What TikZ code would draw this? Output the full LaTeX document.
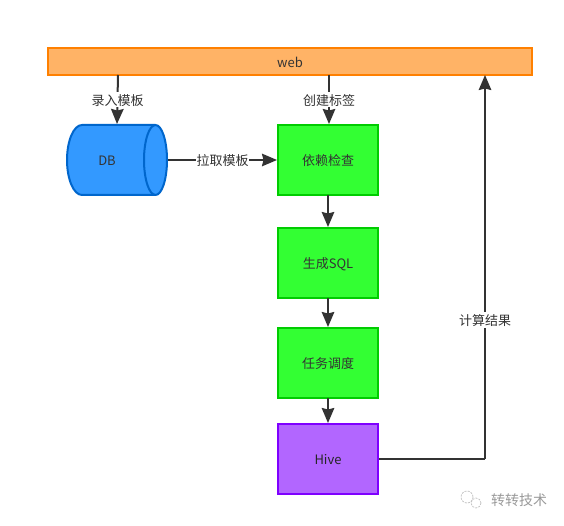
\documentclass[tikz,border=0pt]{standalone}
\usepackage{fontspec}
\setmainfont{Noto Sans CJK SC}
\usetikzlibrary{arrows.meta}
\definecolor{txt}{HTML}{333333}
\definecolor{gfill}{HTML}{33FF33}
\definecolor{gline}{HTML}{00CC00}
\definecolor{dbfill}{HTML}{3399FF}
\definecolor{dbline}{HTML}{0066CC}
\tikzset{
  base/.style={draw,line width=2pt,inner sep=0pt,text=txt,font=\fontsize{13}{15}\selectfont,text height=13pt,text depth=1.2pt,minimum width=100pt,minimum height=70pt},
  greenbox/.style={base,fill=gfill,draw=gline},
  hivebox/.style={base,fill={rgb,255:red,178;green,102;blue,255},draw={rgb,255:red,127;green,0;blue,255},text=black!85},
  webbox/.style={base,fill={rgb,255:red,255;green,179;blue,102},draw={rgb,255:red,255;green,128;blue,0},minimum width=484pt,minimum height=27pt},
  dbtext/.style={inner sep=0pt,text=txt,font=\fontsize{13}{15}\selectfont,text height=13pt,text depth=1.2pt},
  dbshape/.style={fill=dbfill,draw=dbline,line width=2pt},
  conn/.style={draw=txt,line width=2pt,-{Stealth[length=15pt,width=12.5pt,inset=1.5pt]}},
  plainline/.style={draw=txt,line width=2pt},
  lab/.style={fill=white,inner sep=0.5pt,text=txt,font=\fontsize{13}{15}\selectfont,text height=13pt,text depth=1.2pt},
  wmicon/.style={black!25,line width=0.7pt,dash pattern=on 2pt off 1.2pt},
}
\begin{document}
\begin{tikzpicture}[x=1pt,y=-1pt]
\useasboundingbox (0,0) rectangle (564,526);
\fill[white] (0,0) rectangle (564,526);
\node[webbox] (web) at (290,61.5) {web};
% cylinder body and right end
\path[dbshape] (82,125) -- (155.5,125) arc[start angle=-90,end angle=90,x radius=11.5,y radius=35] -- (82,195) arc[start angle=90,end angle=270,x radius=15,y radius=35] -- cycle;
\draw[dbshape,fill=none] (155.5,125) arc[start angle=270,end angle=90,x radius=11.5,y radius=35];
\node[dbtext] (db) at (107,160) {DB};
\node[greenbox] (dep) at (328,160) {依赖检查};
\node[greenbox] (sql) at (328,263) {生成SQL};
\node[greenbox] (sched) at (328,363) {任务调度};
\node[hivebox] (hive) at (328,459) {Hive};
\coordinate (w1) at (118,75);
\coordinate (db1) at (117,124);
\coordinate (db2) at (168,160);
\coordinate (w2) at (329,75);
\coordinate (r) at (485,459);
\coordinate (w3) at (485,75);
\draw[conn] (w1) -- node[lab,pos=0.5] {录入模板} (db1);
\draw[conn] (w2) -- node[lab,pos=0.5] {创建标签} (w2 |- dep.north);
\draw[conn] (db2) -- node[lab,pos=0.5] {拉取模板} (dep.west);
\draw[conn] (dep) ++(0,35) -- (sql.north);
\draw[conn] (sql) ++(0,35) -- (sched.north);
\draw[conn] (sched) ++(0,35) -- (hive.north);
\draw[plainline] (hive.east) -- (r);
\draw[conn] (r) -- node[lab,pos=0.362] {计算结果} (w3);
\node[text=black!40,font=\fontsize{14}{16}\selectfont,inner sep=0pt] (wm) at (519,500) {转转技术};
\draw[wmicon] (467,497) circle (6);
\draw[wmicon] (476,503) circle (5);
\end{tikzpicture}
\end{document}
